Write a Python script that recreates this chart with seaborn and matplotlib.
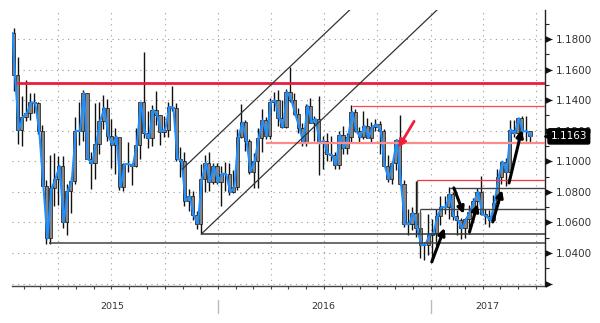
import numpy as np
import pandas as pd
import matplotlib
matplotlib.use("Agg")
import matplotlib.pyplot as plt
import matplotlib.dates as mdates
from matplotlib.ticker import FixedLocator, FuncFormatter
from matplotlib.transforms import blended_transform_factory
import seaborn as sns

# ---------------- data (weekly EUR/USD style bars) ----------------
first_open = 1.1840
first_date = "2015-01-12"

close_2015 = [1.1566, 1.1204, 1.1291, 1.1317, 1.1387, 1.1380, 1.1197, 1.0841, 1.0495, 1.0822,
              1.0887, 1.0970, 1.0603, 1.0807, 1.0873, 1.1199, 1.1198, 1.1447, 1.1014, 1.0987,
              1.1112, 1.1264, 1.1350, 1.1166, 1.1109, 1.1162, 1.0831, 1.0981, 1.0982, 1.0970,
              1.1106, 1.1385, 1.1185, 1.1150, 1.1338, 1.1301, 1.1193, 1.1208, 1.1357, 1.1350,
              1.1017, 1.1003, 1.0741, 1.0770, 1.0647, 1.0592, 1.0882, 1.0989, 1.0867, 1.0966]
high_2015 = [1.1870, 1.1680, 1.1424, 1.1534, 1.1450, 1.1450, 1.1390, 1.1240, 1.0880, 1.1043,
             1.1052, 1.1033, 1.1036, 1.0850, 1.0897, 1.1290, 1.1391, 1.1467, 1.1446, 1.1060,
             1.1380, 1.1386, 1.1436, 1.1410, 1.1278, 1.1215, 1.1129, 1.0987, 1.1128, 1.0990,
             1.1215, 1.1385, 1.1714, 1.1332, 1.1370, 1.1460, 1.1300, 1.1296, 1.1387, 1.1495,
             1.1384, 1.1095, 1.1060, 1.0820, 1.0805, 1.0675, 1.0981, 1.1043, 1.1060, 1.0990]
low_2015 = [1.1460, 1.1114, 1.1098, 1.1262, 1.1270, 1.1317, 1.1177, 1.0838, 1.0462, 1.0458,
            1.0710, 1.0712, 1.0565, 1.0520, 1.0660, 1.0850, 1.1105, 1.1135, 1.1016, 1.0819,
            1.0886, 1.1050, 1.1210, 1.1131, 1.0955, 1.0915, 1.0809, 1.0808, 1.0930, 1.0846,
            1.0960, 1.1015, 1.1155, 1.1087, 1.1103, 1.1240, 1.1105, 1.1157, 1.1160, 1.1330,
            1.1005, 1.0896, 1.0707, 1.0674, 1.0619, 1.0558, 1.0524, 1.0796, 1.0805, 1.0849]

close_2016 = [1.0862, 1.0920, 1.0916, 1.0797, 1.0831, 1.1158, 1.1254, 1.1130, 1.0933, 1.1003,
              1.1154, 1.1268, 1.1165, 1.1390, 1.1398, 1.1286, 1.1225, 1.1453, 1.1404, 1.1308,
              1.1221, 1.1118, 1.1365, 1.1253, 1.1277, 1.1117, 1.1136, 1.1050, 1.1041, 1.0977,
              1.1174, 1.1087, 1.1160, 1.1324, 1.1198, 1.1157, 1.1233, 1.1153, 1.1227, 1.1241,
              1.1200, 1.0970, 1.0884, 1.0987, 1.1140, 1.0853, 1.0588, 1.0590, 1.0662, 1.0562,
              1.0450, 1.0455, 1.0517]
high_2016 = [1.0990, 1.0970, 1.0994, 1.0986, 1.0941, 1.1209, 1.1376, 1.1267, 1.1147, 1.1055,
             1.1218, 1.1342, 1.1290, 1.1412, 1.1454, 1.1465, 1.1398, 1.1475, 1.1616, 1.1445,
             1.1349, 1.1249, 1.1374, 1.1416, 1.1299, 1.1428, 1.1165, 1.1187, 1.1165, 1.1063,
             1.1199, 1.1234, 1.1186, 1.1366, 1.1342, 1.1224, 1.1327, 1.1283, 1.1258, 1.1280,
             1.1262, 1.1210, 1.1040, 1.1000, 1.1146, 1.1300, 1.0878, 1.0685, 1.0700, 1.0874,
             1.0667, 1.0475, 1.0654]
low_2016 = [1.0850, 1.0710, 1.0804, 1.0778, 1.0795, 1.0810, 1.1150, 1.1068, 1.0915, 1.0823,
            1.0822, 1.1058, 1.1144, 1.1144, 1.1327, 1.1234, 1.1215, 1.1217, 1.1385, 1.1300,
            1.1187, 1.1100, 1.1097, 1.1249, 1.1130, 1.0912, 1.0952, 1.1002, 1.1001, 1.0950,
            1.0952, 1.1046, 1.1046, 1.1128, 1.1190, 1.1123, 1.1146, 1.1151, 1.1123, 1.1201,
            1.1045, 1.0966, 1.0864, 1.0852, 1.0940, 1.0847, 1.0569, 1.0518, 1.0550, 1.0505,
            1.0367, 1.0352, 1.0390]

close_2017 = [1.0532, 1.0644, 1.0701, 1.0698, 1.0784, 1.0640, 1.0616, 1.0562, 1.0620, 1.0671,
              1.0740, 1.0800, 1.0652, 1.0642, 1.0615, 1.0727, 1.0895, 1.0998, 1.0931, 1.1208,
              1.1182, 1.1282, 1.1196, 1.1197, 1.1163]
high_2017 = [1.0624, 1.0685, 1.0775, 1.0773, 1.0829, 1.0800, 1.0680, 1.0630, 1.0630, 1.0714,
             1.0760, 1.0828, 1.0906, 1.0691, 1.0683, 1.0778, 1.0950, 1.0999, 1.1022, 1.1268,
             1.1268, 1.1285, 1.1296, 1.1296, 1.1200]
low_2017 = [1.0340, 1.0453, 1.0580, 1.0657, 1.0620, 1.0618, 1.0520, 1.0494, 1.0495, 1.0525,
            1.0600, 1.0705, 1.0650, 1.0590, 1.0570, 1.0605, 1.0720, 1.0850, 1.0839, 1.0925,
            1.1160, 1.1110, 1.1175, 1.1130, 1.1119]

last_price = 1.1163
y_major = [1.02, 1.04, 1.06, 1.08, 1.10, 1.12, 1.14, 1.16, 1.18]
year_labels = ["2015", "2016", "2017"]
year_label_dates = ["2015-07-02", "2016-07-01", "2017-04-09"]
year_starts = ["2016-01-01", "2017-01-01"]

# support / resistance levels: (price, start date, colour, width)
levels = [
    (1.1510, "2015-01-20", "#ee1c3c", 2.0),
    (1.1364, "2016-08-18", "#ff4455", 0.9),
    (1.1122, "2016-03-24", "#ff8a8a", 1.6),
    (1.0876, "2016-12-08", "#ff3040", 0.9),
    (1.0827, "2017-02-02", "#444444", 1.0),
    (1.0688, "2016-12-14", "#444444", 1.0),
    (1.0523, "2015-12-03", "#333333", 1.1),
    (1.0466, "2015-03-16", "#444444", 1.1),
]

# ---------------- build frame ----------------
week_end = pd.date_range("2015-01-16", "2017-06-23", freq="W-FRI")
close = np.array(close_2015 + close_2016 + close_2017)
high = np.array(high_2015 + high_2016 + high_2017)
low = np.array(low_2015 + low_2016 + low_2017)
open_ = np.concatenate([[first_open], close[:-1]])
df = pd.DataFrame({"date": week_end, "open": open_, "high": high, "low": low, "close": close})
line_df = pd.DataFrame({"date": [pd.Timestamp(first_date)] + list(week_end),
                        "close": [first_open] + list(close)})

# ---------------- figure ----------------
sns.set_style("white")
plt.rcParams["font.family"] = ["DejaVu Sans"]
fig = plt.figure(figsize=(6.0, 3.23), dpi=100)
ax = fig.add_axes([12 / 600, 1 - 286 / 323, 533 / 600, 276 / 323])

xmin = mdates.date2num(pd.Timestamp("2015-01-11"))
xmax = mdates.date2num(pd.Timestamp("2017-07-17"))

# candles
xc = mdates.date2num(df["date"]) - 2
ax.vlines(xc, df["low"], df["high"], color="#111111", lw=1.0, zorder=2)
body_lo = np.minimum(df["open"], df["close"])
body_h = np.maximum(np.abs(df["close"] - df["open"]), 0.0004)
ax.bar(xc, body_h, bottom=body_lo, width=5.6, color="#858585",
       edgecolor="#111111", linewidth=0.5, zorder=3)

# close line
sns.lineplot(data=line_df, x="date", y="close", color="#1e8fff", lw=1.5, ax=ax, zorder=4)

# levels
for price, start, col, w in levels:
    ax.hlines(price, mdates.date2num(pd.Timestamp(start)), xmax, color=col, lw=w, zorder=5)
# small vertical connectors
ax.vlines(mdates.date2num(pd.Timestamp("2016-12-08")), 1.0584, 1.0876, color="#555555", lw=0.9, zorder=5)
ax.vlines(mdates.date2num(pd.Timestamp("2016-12-14")), 1.0520, 1.0688, color="#555555", lw=0.9, zorder=5)

# channel lines
for (d0, p0), (d1, p1) in [(("2015-12-03", 1.0524), ("2017-01-20", 1.2019)),
                           (("2015-10-31", 1.0948), ("2016-09-01", 1.2053))]:
    ax.plot([pd.Timestamp(d0), pd.Timestamp(d1)], [p0, p1], color="#333333", lw=0.9, zorder=5)

# red arrow
ax.annotate("", xy=(pd.Timestamp("2016-11-04"), 1.1074), xytext=(pd.Timestamp("2016-12-06"), 1.1277),
            arrowprops=dict(arrowstyle="-|>", color="#f0203a", lw=2, mutation_scale=11), zorder=7)
# black arrows
black_arrows = [
    (("2017-01-03", 1.0342), ("2017-01-25", 1.0564)),
    (("2017-02-10", 1.0826), ("2017-02-27", 1.0656)),
    (("2017-03-09", 1.0538), ("2017-03-23", 1.0721)),
    (("2017-04-18", 1.0603), ("2017-05-04", 1.0812)),
    (("2017-05-16", 1.0858), ("2017-06-07", 1.1205)),
]
for (d0, p0), (d1, p1) in black_arrows:
    ax.annotate("", xy=(pd.Timestamp(d1), p1), xytext=(pd.Timestamp(d0), p0),
                arrowprops=dict(arrowstyle="-|>", color="black", lw=2.2, mutation_scale=10,
                                shrinkA=0, shrinkB=0), zorder=7)

# axes
ax.set_xlim(xmin, xmax)
ax.set_ylim(1.0184, 1.199)
ax.set_xlabel("")
ax.set_ylabel("")
ax.yaxis.tick_right()
ax.yaxis.set_major_locator(FixedLocator(y_major))
ax.yaxis.set_minor_locator(FixedLocator(np.arange(1.01, 1.20, 0.01)))
ax.yaxis.set_major_formatter(FuncFormatter(lambda v, p: f"{v:.4f}" if v > 1.03 else ""))
ax.tick_params(axis="y", which="major", length=5, width=0.8, color="#222222",
               labelsize=7.5, labelcolor="#333333", pad=2.5, right=True, left=False)
ax.tick_params(axis="y", which="minor", length=3, width=0.8, color="#222222", right=True, left=False)

ax.xaxis.set_major_locator(mdates.MonthLocator(bymonth=[1, 4, 7, 10]))
ax.xaxis.set_minor_locator(mdates.MonthLocator())
ax.xaxis.set_major_formatter(FuncFormatter(lambda v, p: ""))
ax.tick_params(axis="x", which="both", length=2.5, width=0.8, color="#444444", bottom=True)

ax.grid(True, which="major", axis="both", color="#9a9a9a", lw=0.8, linestyle=(0, (1, 4)))
ax.set_axisbelow(True)
for s in ["left", "top"]:
    ax.spines[s].set_visible(False)
ax.spines["right"].set_color("#222222")
ax.spines["right"].set_linewidth(1.0)
ax.spines["bottom"].set_color("#444444")
ax.spines["bottom"].set_linewidth(1.0)

ytr = ax.get_yaxis_transform()
for v in y_major:
    ax.plot([1.006], [v], marker=">", ms=3.5, color="#111111", transform=ytr, clip_on=False, zorder=6)

# last price box
ax.plot([1.0045], [last_price], marker="<", ms=5, color="black", transform=ytr, clip_on=False, zorder=11)
ax.text(1.0105, last_price, f"{last_price:.4f}", transform=ytr, ha="left", va="center",
        fontsize=7.5, color="white", zorder=12, clip_on=False,
        bbox=dict(boxstyle="round,pad=0.25,rounding_size=0.15", fc="black", ec="black"))

# year labels and separators
xtr = blended_transform_factory(ax.transData, ax.transAxes)
for lab, d in zip(year_labels, year_label_dates):
    ax.text(mdates.date2num(pd.Timestamp(d)), -0.075, lab, transform=xtr, ha="center", va="center",
            fontsize=6.8, color="#333333")
for d in year_starts:
    x = mdates.date2num(pd.Timestamp(d))
    ax.plot([x, x], [-0.051, -0.098], transform=xtr, color="#bbbbbb", lw=1, clip_on=False)

fig.savefig("out.png", dpi=100)
